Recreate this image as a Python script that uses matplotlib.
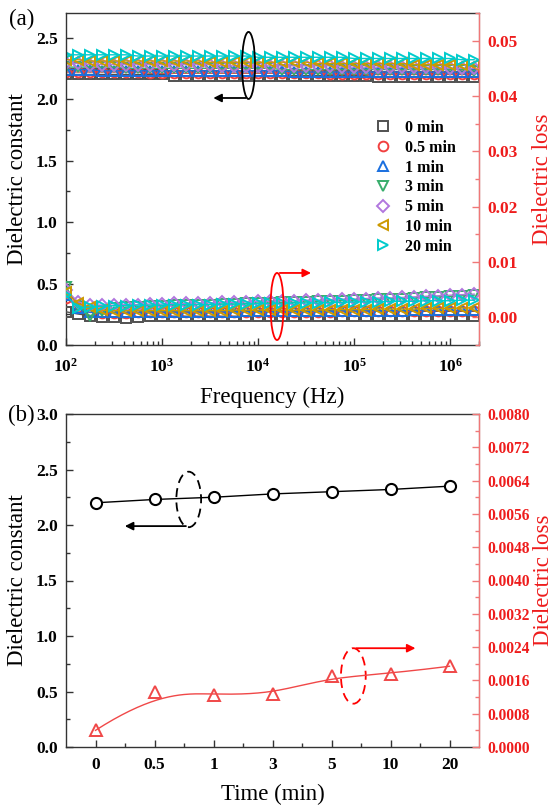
import numpy as np
import matplotlib
matplotlib.use('Agg')
import matplotlib.pyplot as plt
from matplotlib.patches import Ellipse
from matplotlib.lines import Line2D
from matplotlib.ticker import MultipleLocator, FuncFormatter, LogLocator, NullFormatter, FormatStrFormatter

plt.rcParams['font.family'] = 'Liberation Serif'
plt.rcParams['font.weight'] = 'bold'
plt.rcParams['mathtext.fontset'] = 'custom'
plt.rcParams['mathtext.bf'] = 'Liberation Serif:bold'
plt.rcParams['mathtext.rm'] = 'Liberation Serif'

# ---- (a) frequency sweep ----
freq = [1.00e2, 1.33e2, 1.78e2, 2.37e2, 3.16e2, 4.22e2, 5.62e2, 7.50e2,
        1.00e3, 1.33e3, 1.78e3, 2.37e3, 3.16e3, 4.22e3, 5.62e3, 7.50e3,
        1.00e4, 1.33e4, 1.78e4, 2.37e4, 3.16e4, 4.22e4, 5.62e4, 7.50e4,
        1.00e5, 1.33e5, 1.78e5, 2.37e5, 3.16e5, 4.22e5, 5.62e5, 7.50e5,
        1.00e6, 1.33e6, 1.78e6]

labels = ['0 min', '0.5 min', '1 min', '3 min', '5 min', '10 min', '20 min']

eps_0 = [2.20, 2.20, 2.20, 2.20, 2.20, 2.20, 2.20, 2.20, 2.20, 2.19, 2.19, 2.19,
         2.19, 2.19, 2.19, 2.19, 2.19, 2.19, 2.19, 2.19, 2.19, 2.19, 2.19, 2.19,
         2.19, 2.19, 2.18, 2.18, 2.18, 2.18, 2.18, 2.18, 2.18, 2.18, 2.18]
eps_05 = [2.22, 2.22, 2.22, 2.22, 2.22, 2.22, 2.22, 2.21, 2.21, 2.21, 2.21, 2.21,
          2.21, 2.21, 2.21, 2.21, 2.21, 2.21, 2.21, 2.21, 2.21, 2.21, 2.20, 2.20,
          2.20, 2.20, 2.20, 2.20, 2.20, 2.20, 2.20, 2.20, 2.20, 2.20, 2.20]
eps_1 = [2.24, 2.24, 2.24, 2.23, 2.23, 2.23, 2.23, 2.23, 2.23, 2.23, 2.23, 2.23,
         2.23, 2.23, 2.23, 2.23, 2.23, 2.23, 2.23, 2.22, 2.22, 2.22, 2.22, 2.22,
         2.22, 2.22, 2.22, 2.22, 2.22, 2.22, 2.22, 2.22, 2.22, 2.22, 2.22]
eps_3 = [2.26, 2.26, 2.26, 2.26, 2.26, 2.25, 2.25, 2.25, 2.25, 2.25, 2.25, 2.25,
         2.25, 2.25, 2.25, 2.25, 2.25, 2.25, 2.24, 2.24, 2.24, 2.24, 2.24, 2.24,
         2.24, 2.24, 2.24, 2.24, 2.24, 2.24, 2.24, 2.24, 2.24, 2.24, 2.23]
eps_5 = [2.29, 2.29, 2.28, 2.28, 2.28, 2.28, 2.28, 2.28, 2.28, 2.28, 2.28, 2.28,
         2.28, 2.27, 2.27, 2.27, 2.27, 2.27, 2.27, 2.27, 2.27, 2.27, 2.27, 2.26,
         2.26, 2.26, 2.26, 2.26, 2.26, 2.26, 2.26, 2.26, 2.25, 2.25, 2.25]
eps_10 = [2.32, 2.32, 2.31, 2.31, 2.31, 2.31, 2.31, 2.31, 2.31, 2.31, 2.31, 2.31,
          2.30, 2.30, 2.30, 2.30, 2.30, 2.30, 2.30, 2.30, 2.30, 2.29, 2.29, 2.29,
          2.29, 2.29, 2.29, 2.29, 2.29, 2.28, 2.28, 2.28, 2.28, 2.28, 2.28]
eps_20 = [2.36, 2.36, 2.36, 2.36, 2.36, 2.36, 2.35, 2.35, 2.35, 2.35, 2.35, 2.35,
          2.35, 2.35, 2.35, 2.35, 2.34, 2.34, 2.34, 2.34, 2.34, 2.34, 2.34, 2.34,
          2.33, 2.33, 2.33, 2.33, 2.33, 2.33, 2.33, 2.33, 2.33, 2.32, 2.32]

# dielectric loss, units of 1e-3
loss_0 = [1.0, 0.6, 0.3, 0.1, 0.0, -0.1, 0.1, 0.2, 0.2, 0.2, 0.2, 0.2, 0.2, 0.2,
          0.2, 0.2, 0.2, 0.2, 0.2, 0.2, 0.3, 0.3, 0.3, 0.3, 0.3, 0.3, 0.3, 0.3,
          0.3, 0.3, 0.3, 0.3, 0.3, 0.3, 0.3]
loss_05 = [3.5, 1.8, 0.9, 0.8, 0.8, 0.8, 0.9, 0.9, 0.9, 0.9, 0.9, 0.9, 0.9, 0.9,
           1.0, 1.0, 1.0, 1.0, 1.0, 1.0, 1.0, 1.0, 1.0, 1.1, 1.1, 1.1, 1.1, 1.1,
           1.1, 1.1, 1.2, 1.2, 1.2, 1.2, 1.2]
loss_1 = [4.0, 1.6, 0.9, 0.9, 1.0, 1.0, 1.0, 1.0, 1.0, 1.0, 1.0, 1.0, 1.0, 1.0,
          1.0, 1.1, 1.1, 1.1, 1.1, 1.1, 1.1, 1.1, 1.1, 1.2, 1.2, 1.2, 1.2, 1.2,
          1.2, 1.3, 1.3, 1.3, 1.3, 1.3, 1.3]
loss_3 = [5.5, 2.0, 0.3, 1.2, 1.6, 1.8, 1.9, 2.0, 2.1, 2.2, 2.2, 2.3, 2.3, 2.4,
          2.4, 2.5, 2.6, 2.6, 2.7, 2.7, 2.8, 2.9, 3.0, 3.0, 3.1, 3.2, 3.3, 3.4,
          3.4, 3.5, 3.6, 3.7, 3.8, 3.9, 4.0]
loss_5 = [5.0, 2.8, 2.3, 2.2, 2.2, 2.3, 2.3, 2.4, 2.4, 2.5, 2.5, 2.6, 2.6, 2.7,
          2.7, 2.8, 2.9, 2.9, 3.0, 3.0, 3.1, 3.1, 3.2, 3.3, 3.3, 3.4, 3.5, 3.5,
          3.6, 3.7, 3.8, 3.9, 4.0, 4.1, 4.2]
loss_10 = [4.5, 2.5, 1.8, 1.3, 1.2, 1.2, 1.2, 1.2, 1.2, 1.2, 1.2, 1.2, 1.2, 1.2,
           1.3, 1.3, 1.3, 1.3, 1.3, 1.3, 1.3, 1.3, 1.4, 1.4, 1.4, 1.4, 1.5, 1.5,
           1.5, 1.5, 1.6, 1.6, 1.6, 1.7, 1.7]
loss_20 = [4.0, 1.7, 1.9, 2.0, 2.1, 2.1, 2.2, 2.2, 2.2, 2.3, 2.3, 2.3, 2.3, 2.4,
           2.4, 2.4, 2.5, 2.5, 2.5, 2.6, 2.6, 2.6, 2.7, 2.7, 2.8, 2.8, 2.8, 2.9,
           2.9, 2.9, 3.0, 3.0, 3.0, 3.1, 3.1]

# ---- (b) versus treatment time ----
time_labels = ['0', '0.5', '1', '3', '5', '10', '20']
eps_time = [2.20, 2.23, 2.25, 2.28, 2.30, 2.32, 2.35]
loss_time = [0.00040, 0.00131, 0.00126, 0.00127, 0.00170, 0.00176, 0.00194]

colors = ['#515151', '#F14040', '#1A6FDF', '#37AD6B', '#B177DE', '#CC9900', '#00CBCC']
markers = ['s', 'o', '^', 'v', 'D', '<', '>']
msizes = [7, 7, 7.5, 7.5, 6.5, 7.5, 7.5]
RED = '#ee1c1c'
RED_SPINE = '#f07878'
AX_C = '#333333'
LABEL_FS = 16.5


def bspline(cx, cy, num=300, deg=3):
    # clamped uniform B-spline with the data points as control points
    cx = np.asarray(cx, float)
    cy = np.asarray(cy, float)
    n = len(cx)
    kv = np.r_[np.zeros(deg), np.arange(n - deg + 1), np.full(deg, n - deg)].astype(float)
    t = np.linspace(0, n - deg, num)
    t[-1] -= 1e-9
    B = np.array([(kv[i] <= t) & (t < kv[i + 1]) for i in range(len(kv) - 1)], float)
    for d in range(1, deg + 1):
        Bn = np.zeros((len(kv) - 1 - d, num))
        for i in range(len(kv) - 1 - d):
            den1 = kv[i + d] - kv[i]
            den2 = kv[i + d + 1] - kv[i + 1]
            if den1 > 0:
                Bn[i] += (t - kv[i]) / den1 * B[i]
            if den2 > 0:
                Bn[i] += (kv[i + d + 1] - t) / den2 * B[i + 1]
        B = Bn
    return B.T @ cx, B.T @ cy


def style_left(ax, xpad):
    for s in ['left', 'bottom', 'top']:
        ax.spines[s].set_color(AX_C)
        ax.spines[s].set_linewidth(1.0)
    ax.tick_params(which='both', direction='in', top=False, right=False,
                   colors=AX_C, labelcolor='black', labelsize=12.5, width=1)
    ax.tick_params(which='major', length=5)
    ax.tick_params(which='minor', length=3)
    ax.tick_params(axis='x', pad=xpad)
    ax.tick_params(axis='y', pad=6)


def style_right(axr, size):
    axr.spines['right'].set_color(RED_SPINE)
    axr.spines['right'].set_linewidth(1.0)
    for s in ['left', 'bottom', 'top']:
        axr.spines[s].set_visible(False)
    axr.tick_params(axis='y', which='both', direction='in', colors=RED_SPINE,
                    labelcolor=RED, labelsize=size, width=1, pad=6)
    axr.tick_params(axis='y', which='major', length=5)
    axr.tick_params(axis='y', which='minor', length=3)


fig = plt.figure(figsize=(5.55, 8.07), dpi=100)
ax1 = fig.add_axes([66 / 555, 1 - 345 / 807, 413 / 555, 332 / 807])
ax1r = ax1.twinx()

eps_all = [eps_0, eps_05, eps_1, eps_3, eps_5, eps_10, eps_20]
loss_all = [loss_0, loss_05, loss_1, loss_3, loss_5, loss_10, loss_20]

for e, c, m, ms in zip(eps_all, colors, markers, msizes):
    ax1.plot(freq, e, color=c, lw=1, marker=m, ms=ms, mfc='none', mec=c, mew=1.4)
for l, c, m, ms in zip(loss_all, colors, markers, msizes):
    ax1r.plot(freq, np.array(l) * 1e-3, color=c, lw=1, marker=m, ms=ms,
              mfc='none', mec=c, mew=1.4)

ax1.set_xscale('log')
ax1.set_xlim(100, 2e6)
ax1.set_ylim(0, 2.7)
ax1.yaxis.set_major_locator(MultipleLocator(0.5))
ax1.yaxis.set_minor_locator(MultipleLocator(0.25))
ax1.yaxis.set_major_formatter(FormatStrFormatter('%.1f'))
ax1.xaxis.set_major_locator(LogLocator(base=10))
ax1.xaxis.set_minor_locator(LogLocator(base=10, subs=np.arange(2, 10)))
ax1.xaxis.set_minor_formatter(NullFormatter())
ax1.xaxis.set_major_formatter(FuncFormatter(lambda v, p: r'$\mathbf{10^{%d}}$' % round(np.log10(v))))
style_left(ax1, 9)

ax1r.set_ylim(-0.005, 0.055)
ax1r.yaxis.set_major_locator(MultipleLocator(0.01))
ax1r.yaxis.set_minor_locator(MultipleLocator(0.005))
ax1r.yaxis.set_major_formatter(FuncFormatter(lambda v, p: '%.2f' % v if v > -0.001 else ''))
style_right(ax1r, 12.5)

ax1.set_xlabel('Frequency (Hz)', fontsize=LABEL_FS, fontweight='normal')
ax1.xaxis.set_label_coords(0.5, -0.125)
ax1.set_ylabel('Dielectric constant', fontsize=LABEL_FS, fontweight='normal')
ax1.yaxis.set_label_coords(-0.093, 0.5)
ax1r.set_ylabel('Dielectric loss', fontsize=LABEL_FS, fontweight='normal', color=RED)
ax1r.yaxis.set_label_coords(1.128, 0.5)

handles = [Line2D([], [], ls='none', marker=m, ms=ms, mfc='none', mec=c, mew=1.4)
           for c, m, ms in zip(colors, markers, msizes)]
ax1.legend(handles, labels, loc='upper left', bbox_to_anchor=(0.748, 0.678),
           frameon=False, prop={'size': 11.5, 'weight': 'bold'}, handlelength=1.0,
           handletextpad=0.9, labelspacing=0.24, borderpad=0, borderaxespad=0)

# ellipse + arrow markers pointing at each axis
ax1.add_patch(Ellipse((0.442, 0.842), 0.0315, 0.202, transform=ax1.transAxes,
                      fill=False, ec='black', lw=1.3, zorder=10))
ax1.annotate('', xy=(0.35, 0.744), xytext=(0.442, 0.744), xycoords='axes fraction',
             arrowprops=dict(arrowstyle='-|>', color='black', lw=1.3, mutation_scale=12),
             zorder=10)
ax1r.add_patch(Ellipse((0.511, 0.116), 0.0315, 0.202, transform=ax1r.transAxes,
                       fill=False, ec='red', lw=1.3, zorder=10))
ax1r.annotate('', xy=(0.60, 0.217), xytext=(0.511, 0.217), xycoords='axes fraction',
              arrowprops=dict(arrowstyle='-|>', color='red', lw=1.3, mutation_scale=12),
              zorder=10)

# ---- bottom panel ----
ax2 = fig.add_axes([66 / 555, 1 - 747 / 807, 413 / 555, 333 / 807])
ax2r = ax2.twinx()
xpos = np.arange(len(time_labels))

ax2.plot(xpos, eps_time, color='black', lw=1, marker='o', ms=8, mfc='white',
         mec='black', mew=1.5, zorder=5)
sx, sy = bspline(xpos, loss_time)
ax2r.plot(sx, sy, color='#f04848', lw=1)
ax2r.plot(xpos, loss_time, ls='none', marker='^', ms=9, mfc='none', mec='#f04848', mew=1.4)

ax2.set_xlim(-0.5, 6.5)
ax2.set_ylim(0, 3.0)
ax2.set_xticks(xpos)
ax2.set_xticklabels(time_labels)
ax2.set_xticks(xpos[:-1] + 0.5, minor=True)
ax2.yaxis.set_major_locator(MultipleLocator(0.5))
ax2.yaxis.set_minor_locator(MultipleLocator(0.25))
ax2.yaxis.set_major_formatter(FormatStrFormatter('%.1f'))
style_left(ax2, 7)

ax2r.set_ylim(0, 0.008)
ax2r.yaxis.set_major_locator(MultipleLocator(0.0008))
ax2r.yaxis.set_minor_locator(MultipleLocator(0.0004))
ax2r.yaxis.set_major_formatter(FormatStrFormatter('%.4f'))
style_right(ax2r, 11.2)

ax2.set_xlabel('Time (min)', fontsize=LABEL_FS, fontweight='normal')
ax2.xaxis.set_label_coords(0.5, -0.112)
ax2.set_ylabel('Dielectric constant', fontsize=LABEL_FS, fontweight='normal')
ax2.yaxis.set_label_coords(-0.093, 0.5)
ax2r.set_ylabel('Dielectric loss', fontsize=LABEL_FS, fontweight='normal', color=RED)
ax2r.yaxis.set_label_coords(1.13, 0.5)

ax2.add_patch(Ellipse((1.58, 2.23), 0.42, 0.5, fill=False, ec='black', lw=1.3,
                      ls=(0, (5, 3)), zorder=10))
ax2.annotate('', xy=(0.45, 1.99), xytext=(1.58, 1.99),
             arrowprops=dict(arrowstyle='-|>', color='black', lw=1.3, mutation_scale=12))
ax2.add_patch(Ellipse((4.37, 0.64), 0.42, 0.5, fill=False, ec='red', lw=1.3,
                      ls=(0, (5, 3)), zorder=10))
ax2.annotate('', xy=(5.47, 0.89), xytext=(4.37, 0.89),
             arrowprops=dict(arrowstyle='-|>', color='red', lw=1.3, mutation_scale=12))

fig.text(22 / 555, 1 - 19 / 807, '(a)', fontsize=16.5, fontweight='normal', ha='center', va='center')
fig.text(21 / 555, 1 - 415 / 807, '(b)', fontsize=16.5, fontweight='normal', ha='center', va='center')

fig.savefig('out.png', dpi=100)
